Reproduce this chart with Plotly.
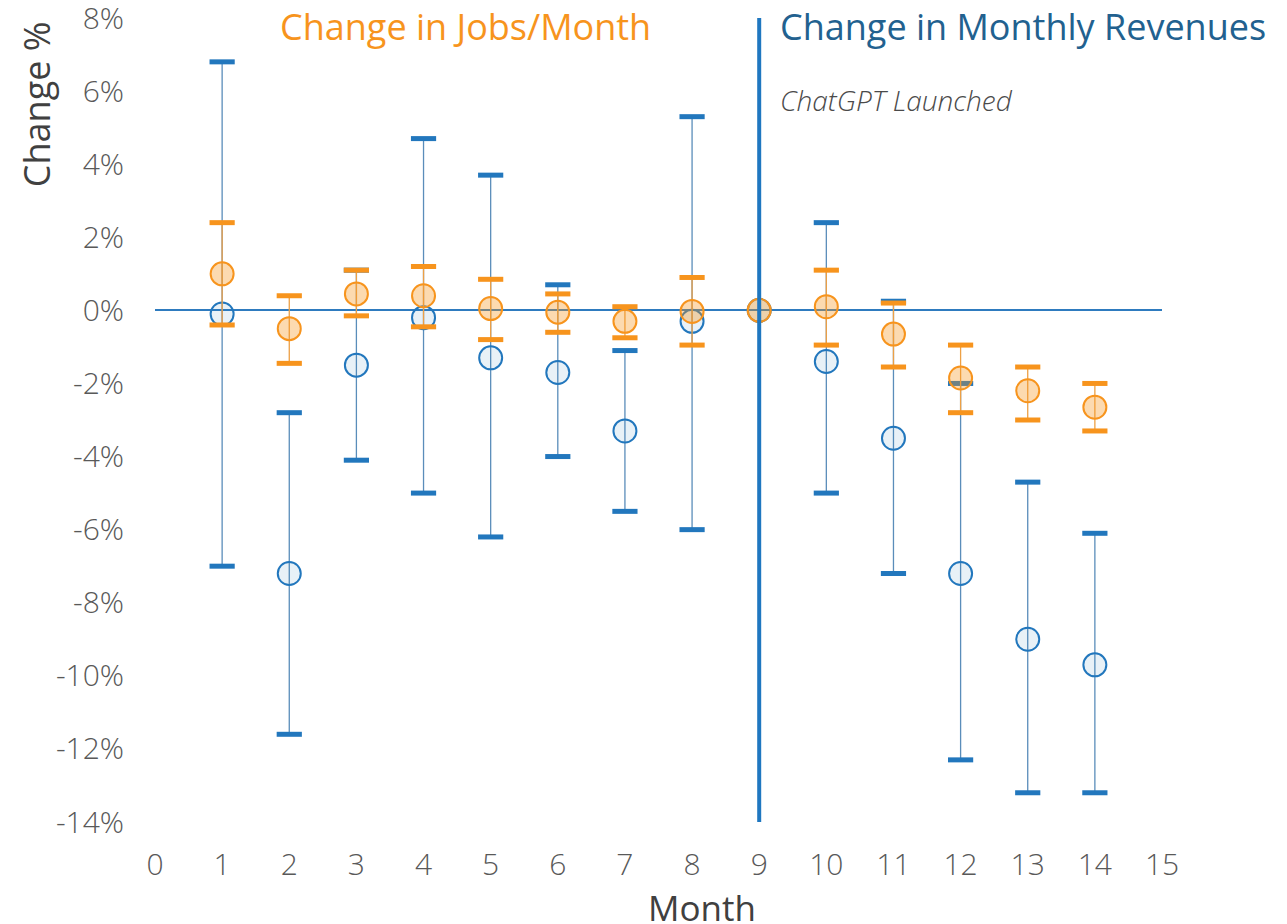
import plotly.graph_objects as go

months = list(range(1, 15))

# Change in monthly revenues (%)
rev_value = [-0.1, -7.2, -1.5, -0.2, -1.3, -1.7, -3.3, -0.3, 0.0, -1.4, -3.5, -7.2, -9.0, -9.7]
rev_upper = [6.8, -2.8, 1.1, 4.7, 3.7, 0.7, -1.1, 5.3, 0.0, 2.4, 0.25, -2.0, -4.7, -6.1]
rev_lower = [-7.0, -11.6, -4.1, -5.0, -6.2, -4.0, -5.5, -6.0, 0.0, -5.0, -7.2, -12.3, -13.2, -13.2]

# Change in jobs per month (%)
job_value = [1.0, -0.5, 0.45, 0.4, 0.05, -0.05, -0.3, -0.03, 0.0, 0.1, -0.65, -1.85, -2.2, -2.65]
job_upper = [2.4, 0.4, 1.1, 1.2, 0.85, 0.45, 0.1, 0.9, 0.0, 1.1, 0.2, -0.95, -1.55, -2.0]
job_lower = [-0.4, -1.45, -0.15, -0.45, -0.8, -0.6, -0.75, -0.95, 0.0, -0.95, -1.55, -2.8, -3.0, -3.3]

launch_month = 9

x_tick_vals = list(range(0, 16))
y_tick_vals = [8, 6, 4, 2, 0, -2, -4, -6, -8, -10, -12, -14]
y_tick_labels = ["8%", "6%", "4%", "2%", "0%", "-2%", "-4%", "-6%", "-8%", "-10%", "-12%", "-14%"]

BLUE = "#2277BD"
BLUE_STEM = "#5A8DBA"
BLUE_FILL = "rgba(31,119,180,0.10)"
ORANGE = "#F7941D"
ORANGE_STEM = "#EDA045"
ORANGE_FILL = "rgba(247,148,29,0.35)"
TITLE_BLUE = "#22618F"
GREY = "#595959"

fig = go.Figure()


def add_series(value, upper, lower, color, stem, fill):
    mx, mv, mu, ml = [], [], [], []
    cx, cy = [], []
    for m, v, u, l in zip(months, value, upper, lower):
        mx.append(m)
        mv.append(v)
        mu.append(u - v)
        ml.append(v - l)
        if u != v or l != v:
            cx += [m, m]
            cy += [u, l]
    # stems
    fig.add_trace(go.Scatter(
        x=mx, y=mv, mode="markers",
        marker=dict(size=1, color="rgba(0,0,0,0)"),
        error_y=dict(type="data", symmetric=False, array=mu, arrayminus=ml,
                     width=0, thickness=1.3, color=stem),
        hoverinfo="skip", showlegend=False))
    # caps
    fig.add_trace(go.Scatter(
        x=cx, y=cy, mode="markers",
        marker=dict(symbol="line-ew", size=18, line=dict(width=5, color=color)),
        hoverinfo="skip", showlegend=False))
    # points
    fig.add_trace(go.Scatter(
        x=mx, y=mv, mode="markers",
        marker=dict(symbol="circle", size=23, color=fill,
                    line=dict(width=2, color=color)),
        showlegend=False))


add_series(rev_value, rev_upper, rev_lower, BLUE, BLUE_STEM, BLUE_FILL)
add_series(job_value, job_upper, job_lower, ORANGE, ORANGE_STEM, ORANGE_FILL)

fig.add_shape(type="line", xref="x", yref="paper", x0=launch_month, x1=launch_month,
              y0=0, y1=1, line=dict(color="#1F77C0", width=4), layer="above")

tick_font = dict(family="Open Sans", size=30, color=GREY, weight=300)

fig.update_xaxes(range=[0, 15], tickvals=x_tick_vals, showgrid=False, zeroline=False,
                 showline=False, ticks="", tickfont=tick_font, ticklabelstandoff=22)
fig.update_yaxes(range=[-14, 8], tickvals=y_tick_vals, ticktext=y_tick_labels,
                 showgrid=False, zeroline=True, zerolinecolor="#2E7BBF", zerolinewidth=1.5,
                 showline=False, ticks="", tickfont=tick_font, ticklabelstandoff=30,
                 ticklabeloverflow="allow", automargin=False)
fig.update_xaxes(automargin=False)

annots = [
    dict(text="Change in Jobs/Month", x=0.308, y=0.989, xanchor="center", yanchor="middle",
         font=dict(family="Open Sans", size=36, color=ORANGE)),
    dict(text="Change in Monthly Revenues", x=0.619, y=0.989, xanchor="left", yanchor="middle",
         font=dict(family="Open Sans", size=36, color=TITLE_BLUE)),
    dict(text="<i>ChatGPT Launched</i>", x=0.619, y=0.898, xanchor="left", yanchor="middle",
         font=dict(family="Open Sans", size=28, color="#4a4a4a", weight=300)),
    dict(text="Month", x=0.543, y=-0.106, xanchor="center", yanchor="middle",
         font=dict(family="Open Sans", size=35, color="#404040")),
    dict(text="Change %", x=-0.118, y=0.893, xanchor="center", yanchor="middle",
         textangle=-90, font=dict(family="Open Sans", size=36, color="#404040")),
]
for a in annots:
    fig.add_annotation(xref="paper", yref="paper", showarrow=False, **a)

fig.update_layout(
    width=1287, height=924,
    margin=dict(l=147, r=133, t=10, b=110),
    paper_bgcolor="white", plot_bgcolor="white",
    font=dict(family="Open Sans"),
    showlegend=False,
)

fig.write_html("out.html")
